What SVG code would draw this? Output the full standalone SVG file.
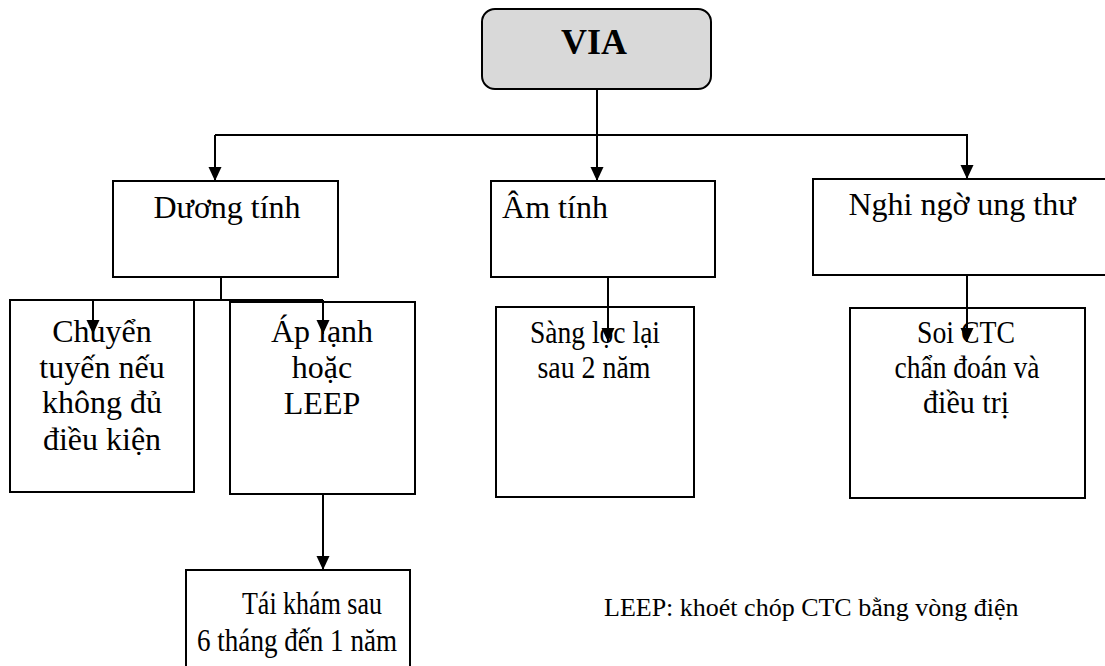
<svg xmlns="http://www.w3.org/2000/svg" width="1105" height="666" viewBox="0 0 1105 666">
<style>
.box{fill:#ffffff;stroke:#000;stroke-width:2}
.t{font-family:"Liberation Serif","Times New Roman",serif;font-size:32px;fill:#000;text-anchor:middle}
.s{font-size:31px}
.note{font-family:"Liberation Serif","Times New Roman",serif;font-size:26px;fill:#000}
.c{fill:none;stroke:#000;stroke-width:2}
</style>
<defs>
<marker id="ah" markerUnits="userSpaceOnUse" markerWidth="14" markerHeight="14" refX="14" refY="6.5" orient="auto" viewBox="0 0 14 13">
<path d="M0,0 L14,6.5 L0,13 z" fill="#000"/>
</marker>
</defs>
<rect width="1105" height="666" fill="#fff"/>
<g id="via">
<rect x="482" y="9" width="229" height="80" rx="13" fill="#d9d9d9" stroke="#000" stroke-width="2"/>
<text class="t" x="594" y="54" font-weight="bold" style="font-size:36px">VIA</text>
</g>
<g id="duong-tinh">
<rect class="box" x="113" y="181" width="225" height="96"/>
<text class="t" x="227" y="218">Dương tính</text>
</g>
<g id="am-tinh">
<rect class="box" x="491" y="181" width="224" height="96"/>
<text class="t" x="555" y="218">Âm tính</text>
</g>
<g id="nghi-ngo">
<rect class="box" x="813" y="179" width="300" height="96"/>
<text class="t" x="962" y="215">Nghi ngờ ung thư</text>
</g>
<g id="chuyen-tuyen">
<rect class="box" x="10" y="300" width="184" height="192"/>
<text class="t" x="102" y="342">Chuyển</text>
<text class="t" x="102" y="378">tuyến nếu</text>
<text class="t" x="102" y="413">không đủ</text>
<text class="t" x="102" y="450">điều kiện</text>
</g>
<g id="ap-lanh">
<rect class="box" x="230" y="302" width="185" height="192"/>
<text class="t" x="322" y="342">Áp lạnh</text>
<text class="t" x="322" y="378">hoặc</text>
<text class="t" x="322" y="414">LEEP</text>
</g>
<g id="sang-loc">
<rect class="box" x="496" y="307" width="198" height="190"/>
<text class="t s" x="595" y="343" textLength="130" lengthAdjust="spacingAndGlyphs">Sàng lọc lại</text>
<text class="t s" x="594" y="378" textLength="113" lengthAdjust="spacingAndGlyphs">sau 2 năm</text>
</g>
<g id="soi-ctc">
<rect class="box" x="850" y="308" width="235" height="190"/>
<text class="t s" x="966" y="343" textLength="98" lengthAdjust="spacingAndGlyphs">Soi CTC</text>
<text class="t s" x="967" y="378" textLength="145" lengthAdjust="spacingAndGlyphs">chẩn đoán và</text>
<text class="t s" x="966" y="413" textLength="86" lengthAdjust="spacingAndGlyphs">điều trị</text>
</g>
<g id="tai-kham">
<rect class="box" x="186" y="570" width="224" height="110"/>
<text class="t s" x="312" y="614" textLength="140" lengthAdjust="spacingAndGlyphs">Tái khám sau</text>
<text class="t s" x="297" y="651" textLength="200" lengthAdjust="spacingAndGlyphs">6 tháng đến 1 năm</text>
</g>
<g id="note">
<text class="note" x="604" y="616">LEEP: khoét chóp CTC bằng vòng điện</text>
</g>
<g id="connectors">
<line class="c" x1="597" y1="89" x2="597" y2="181" marker-end="url(#ah)"/>
<polyline class="c" points="215,135 967,135 967,179" marker-end="url(#ah)"/>
<line class="c" x1="215" y1="135" x2="215" y2="181" marker-end="url(#ah)"/>
<polyline class="c" points="221,277 221,300"/>
<line class="c" x1="93" y1="300" x2="323" y2="300"/>
<line class="c" x1="93" y1="300" x2="93" y2="334" marker-end="url(#ah)"/>
<line class="c" x1="323" y1="300" x2="323" y2="334" marker-end="url(#ah)"/>
<line class="c" x1="608" y1="277" x2="608" y2="342" marker-end="url(#ah)"/>
<line class="c" x1="967" y1="275" x2="967" y2="342" marker-end="url(#ah)"/>
<line class="c" x1="323" y1="494" x2="323" y2="570" marker-end="url(#ah)"/>
</g>
</svg>
